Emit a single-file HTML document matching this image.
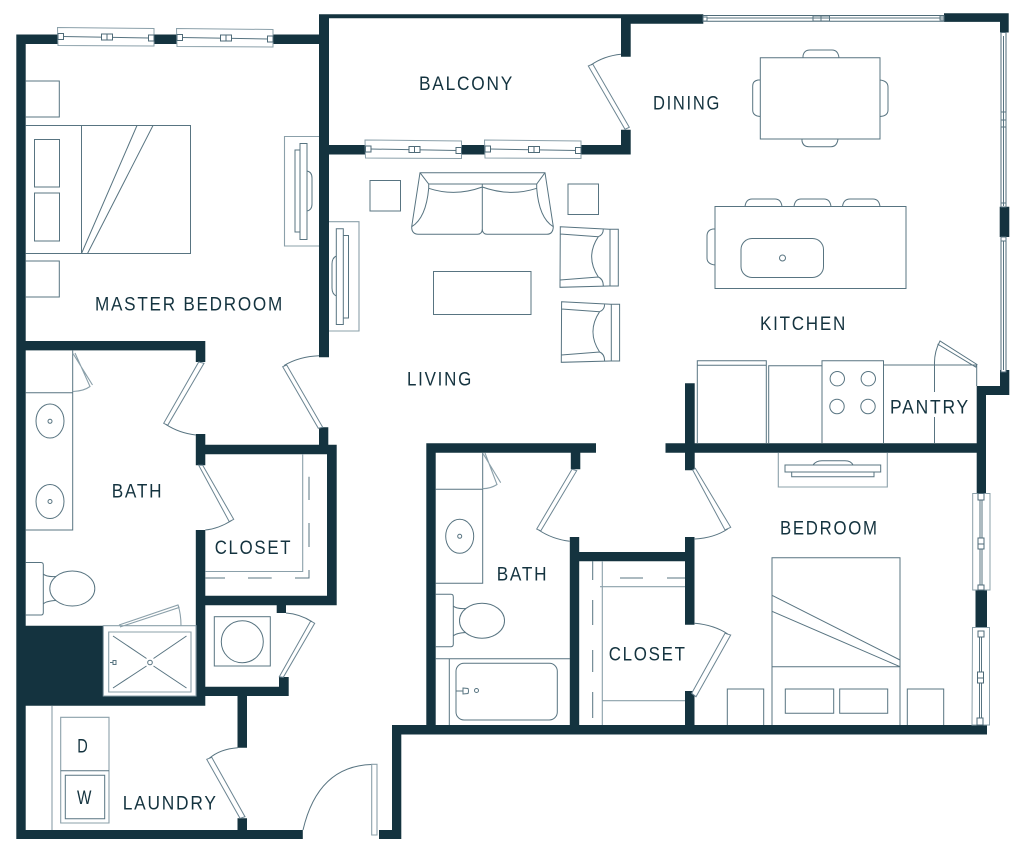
<!DOCTYPE html>
<html lang="en">
<head>
<meta charset="utf-8">
<title>Floor Plan</title>
<style>
html,body{margin:0;padding:0;background:#fff}
svg{display:block}
.w{fill:#14333f;stroke:none}
.t{fill:none;stroke:#587481;stroke-width:1}
.l{fill:none;stroke:#8ba0aa;stroke-width:1.1}
.p{fill:#fff;stroke:#6c8592;stroke-width:1}
.wi{fill:#fff;stroke:#8ba0aa;stroke-width:1}
.wl{fill:#fff;stroke:#4f6b78;stroke-width:1}
text{font-family:"Liberation Sans",sans-serif;font-size:19.5px;letter-spacing:2px;fill:#14333f}
</style>
</head>
<body>
<svg width="1024" height="852" viewBox="0 0 1024 852" xmlns="http://www.w3.org/2000/svg">
<defs>
<g id="slider">
<path class="wi" d="M57.5 27.5L154 28.5V46L58 45.5Z"/>
<path class="t" d="M63 36.5L149 38"/>
<path class="wl" d="M58 33.5H63.5V39.5H58ZM148.5 35H154V41H148.5ZM101.5 34H107V40H101.5ZM107 34H112.5V40H107Z"/>
</g>
<g id="chair">
<path class="t" d="M560.3 226.7L609.3 229.3H618.3V286H609L560 287.3ZM610 229.3V286M560.3 234L598.3 236.7Q603.3 235 603.3 229.3M598.3 236.7Q585 256.7 598.3 277M560 280L598.3 277Q603.3 279 603.3 286"/>
</g>
</defs>
<rect width="1024" height="852" fill="#fff"/>

<path class="w" d="M16.3 34.5H58.3V44H25.7V830H302.8V839H16.3ZM154 34.5H177V44H154ZM272 34.5H319V14.3H703.3V23.8H630.7V56.7H621V18.3H329V145H366V154.5H329V357.2H319V44H272ZM461 145H486V154.5H461ZM581 145H621V129.7H630.7V154.5H581ZM944 13.3H1008.7V32.5H1000V21.9H944ZM999.7 206.7H1009.3V237H999.7ZM1000 370H1009.3V395H986V493H976.7V386H1000ZM975.5 590H987V627H975.5ZM392 725H987V734.5H401.3V839H379V830H392ZM237.5 818.3H247V830.3H237.5ZM237.5 695H247V747.8H237.5ZM205.3 686.7H279V677H288.7V696H205.3ZM16.3 625.7H103.3V696H195.8V530H205.3V705.8H16.3ZM195.8 434H205.3V444.8H336.7V605.2H286V613H276.7V605.2H205.3V595.8H327V454.2H205.3V465.3H195.8ZM195.8 341H205.3V362H195.8V350.4H16.3V341ZM319 427.3H328.3V445.3H319ZM426.3 443.3H596V452.7H580.3V469.3H570.8V452.7H435.7V728.3H426.3ZM569.8 537H579.2V552H685V537H694.5V624.7H685V561.3H579.2V727H569.8ZM685 691H694.5V727H685ZM685 383.3H694.7V443.3H986V452.7H694.7V470.3H685V452.7H665.5V443.3H685Z"/>

<path class="wl" d="M703 15.5H944V21.3H703ZM1001 32.5H1006V207H1001ZM1001 237H1006V372H1001Z"/>
<path class="t" d="M707 18H944M703 17H707V21H703ZM813 16H821V21H813ZM821 16H829.5V21H821ZM940 16H944V20H940ZM1003.5 36V206M1003.5 241V370M1001 112H1006V120H1001ZM1001 120H1006V127H1001ZM1001 203H1006V207H1001ZM1001 237H1006V241H1001Z"/>

<use href="#slider"/>
<use href="#slider" x="119" y="1"/>
<use href="#slider" x="307.5" y="112.5"/>
<use href="#slider" x="427" y="112.5"/>

<path class="wi" d="M972.7 493.5H990V590H972.7ZM972.5 627.5H989.5V725H972Z"/>
<path class="t" d="M980 497V586M982 497V586M979.5 633V718M981.5 633V718"/>
<path class="wl" d="M978 493.5H984V500H978ZM978 585H984V590H978ZM978 538H984V544H978ZM978 544H984V549H978ZM978 631H984V637H978ZM977 718H983V725H977ZM977.5 672H983.5V678H977.5ZM977.5 678H983.5V683H977.5Z"/>

<!-- master bedroom -->
<path class="t" d="M25.7 81H59.3V117H25.7M25.7 261H59.3V297H25.7M25.7 125.5H190.5V253.5H25.7M81.5 125.5V253.5M137 125.5L81.5 253.5M153 125.5L87.5 253.5M34.5 139.5H59.5V187H34.5ZM34.5 193H59.5V241H34.5ZM300 143.5H307V239.5H300ZM295 150H300V232H295ZM307 171Q312 172 312 178V204Q312 210 307 211"/>
<path class="l" d="M319 136.5H284.5V246H319M329 221.7H359V331H329"/>

<!-- living -->
<path class="t" d="M336.3 228.7H343.3V324.5H336.3ZM343.3 235.5H348.5V318H343.3ZM336.3 256Q332 258 332 264V288Q332 294 336.3 296M370 180.5H400.5V211H370ZM568 184H598.5V214.5H568ZM433.5 271.5H531V314.5H433.5ZM420 172.7H545L553.3 226.7Q553 234.3 546.7 234.3H487Q482.3 234 482.3 229Q482.3 234 477.5 234.3H418.3Q411.5 234 411.7 226.7ZM420 172.7L428.7 184H536.7L545 172.7M482.3 184V229M428.7 184V188.3Q455 197 482.3 187Q510 197 536.7 188.3V184M428.7 188.3Q426 218 411.7 226.7M536.7 188.3Q539 218 553.3 226.7"/>
<use href="#chair"/>
<use href="#chair" x="1.3" y="75"/>

<!-- dining and kitchen -->
<path class="t" d="M760.3 57.7H880V139H760.3ZM803 57.7V56Q804 50 810 50H832Q838 50 839 57.7M802 139V141Q803 146.7 809 146.7H831Q837 146.7 838 139M760.3 80H758Q752.7 81 752.7 86V110Q752.7 116 760.3 116.5M880 80Q888 81 888 87V110Q888 116 880 116.5M715 206.5H906V288.5H715ZM745 206.5Q746 199 752 199H775Q781 199 782 206.5M794 206.5Q795 199 801 199H824Q830 199 831 206.5M842.5 206.5Q843.5 199 850 199H873Q879 199 880 206.5M715 229H713Q707 230 707 236V258Q707 264 715 265"/>
<rect class="t" x="741" y="238.5" width="82.5" height="39" rx="11"/>
<circle class="t" cx="782.5" cy="258" r="3"/>
<path class="t" d="M697.3 443V360.7H766.3V443M697.3 365.3H766.3M768.7 443V365.7H822M822 443V360.7H883.5V443M883.5 365H976.7V386M934.5 443V417M934.5 392V365Q934 352 940 341L977 364.5L975.7 367L937.5 344"/>
<circle class="t" cx="837.3" cy="378.7" r="7.2"/>
<circle class="t" cx="868.3" cy="378.7" r="7.2"/>
<circle class="t" cx="837" cy="406.5" r="7.2"/>
<circle class="t" cx="868" cy="406.5" r="7.2"/>

<!-- bedroom -->
<path class="l" d="M778.3 452.7V487H887.3V452.7"/>
<path class="t" d="M785 465H880.7V472H785ZM791.7 472H874V476.7H791.7ZM813 465Q816 460.7 822 460.7H845Q851 460.7 853 465M772 725V557.7H900V725M772 666.7H900M772 595.3L900 660M772 611.3L900 666.7M785.3 689H833.7V713.3H785.3ZM839.7 689H887.7V713.3H839.7ZM727.3 725V689H763.7V725M907.3 725V689H943.7V725"/>

<!-- master bath -->
<path class="t" d="M72.7 350V530H25.7M25.7 392.7H72.7M25.7 562.5H41Q43.3 562.5 43.3 565V612.5Q43.3 615 41 615H25.7M43.3 574Q46 577 56 576.5M43.3 604Q46 601 56 600.5"/>
<ellipse class="t" cx="50" cy="421" rx="14" ry="17"/>
<circle class="t" cx="50" cy="421.3" r="2"/>
<ellipse class="t" cx="50" cy="501.5" rx="14" ry="17"/>
<circle class="t" cx="50" cy="501.5" r="2"/>
<ellipse class="t" cx="72.3" cy="588.5" rx="22.5" ry="17.5"/>
<path class="l" d="M73 353.5L92.5 385M75 353L90 386.5Q84 391 73 391.5M103.3 625.7H196V696H103.3ZM108.7 632H191V692H108.7ZM119 625L178 605L179 607.5L120 627M178 605Q181 614 181 625.7"/>
<path class="t" d="M113 636L146.5 658.5M186.5 636L153.5 658.5M113 688L146.5 666M186.5 688L153.5 666M110 662.5H113M113 660.5H116V664.5H113Z"/>
<circle class="t" cx="150" cy="662.5" r="2.3"/>

<!-- utility closet and master closet -->
<rect class="t" x="214.3" y="616.7" width="56" height="49.3"/>
<circle class="t" cx="242.3" cy="641.7" r="21"/>
<path class="l" d="M302.7 454V571.5H205.3"/>
<path class="t" d="M309 476.7V500M309 523V547M309 570V578H295M271.7 578H248M225 578H205.3"/>

<!-- second bath -->
<path class="t" d="M482.7 452.7V583.3H435.7M435.7 489.3H482.7M435.7 594.3H451Q453.3 594.3 453.3 597V644Q453.3 646.7 451 646.7H435.7M453.3 606Q456 609 466 608.5M453.3 636Q456 633 466 632.5M435.7 658.7H570M449.3 658.7V725M456 691H463M463 688L468 688.5Q469 691 468 693.5L463 694Z"/>
<ellipse class="t" cx="459.7" cy="536.3" rx="14" ry="17"/>
<circle class="t" cx="459.7" cy="536.3" r="2"/>
<ellipse class="t" cx="482" cy="620.7" rx="22.5" ry="17.5"/>
<rect class="t" x="456" y="663.3" width="101.3" height="56.7" rx="8"/>
<circle class="t" cx="476.5" cy="690.5" r="2"/>
<path class="l" d="M483 453.5L500.7 482.7M485 453L497 484.5Q491 488.5 482.7 488.7M602.3 561V725M600 586.7H685M602 700.7H685"/>
<path class="t" d="M592.7 561V580M592.7 600V625M592.7 650V672M592.7 692V718M620 578H643M667 578H685"/>

<!-- laundry -->
<path class="l" d="M52 706V830M60.7 717.3H109V823H60.7Z"/>
<path class="t" d="M60.7 770.7H109M65.3 775.3H104.7V818.7H65.3Z"/>

<!-- doors -->
<path class="p" d="M198.7 362L204 363.3L167.7 425.3L163.7 423.3ZM198.7 465.3L202.7 465.3L233.7 519.3L229.3 521.7ZM282.7 366.7L286.7 365L322.7 427.3L318.3 428.3ZM279.3 676.7L283.3 677.3L314.7 623.3L310.7 621ZM206.7 759.3L211.7 757.3L245 816.7L240 818.3ZM588.3 66L592.7 64L629.3 127.3L625 129.3ZM572 469.3L576.7 470.7L540.7 531L536.7 529ZM692.7 470L695.3 468.3L730.7 527.3L725 530ZM691.7 693.3L696 696.7L730.7 635L725 633.3Z"/>
<path class="t" d="M165.7 424.3Q179 433 195.8 435M231.5 520.5Q218 529 205.3 530M284 365.5Q299 356.5 319 355.7M286 613Q300 614 312 621.7M209.3 758.3Q220 749 237.7 747.7M591 65Q604 56 621 54.3M538.7 530Q552 539 569.7 541.3M727.7 529Q714 538 694.7 539M727.7 634Q714 625 694.7 623.3M371.7 764.5Q318 766 303 830"/>
<path class="l" d="M371.7 764.3H377V835H371.7Z"/>

<!-- labels -->
<text x="95" y="310.7" textLength="189" lengthAdjust="spacingAndGlyphs">MASTER BEDROOM</text>
<text x="419" y="90" textLength="95" lengthAdjust="spacingAndGlyphs">BALCONY</text>
<text x="653" y="109.5" textLength="68" lengthAdjust="spacingAndGlyphs">DINING</text>
<text x="407" y="385.5" textLength="66" lengthAdjust="spacingAndGlyphs">LIVING</text>
<text x="760" y="330" textLength="87" lengthAdjust="spacingAndGlyphs">KITCHEN</text>
<text x="890" y="413.3" textLength="80" lengthAdjust="spacingAndGlyphs">PANTRY</text>
<text x="111.7" y="497.3" textLength="51.6" lengthAdjust="spacingAndGlyphs">BATH</text>
<text x="214.7" y="554" textLength="77.6" lengthAdjust="spacingAndGlyphs">CLOSET</text>
<text x="496.7" y="580.7" textLength="51.6" lengthAdjust="spacingAndGlyphs">BATH</text>
<text x="608.7" y="660.7" textLength="78" lengthAdjust="spacingAndGlyphs">CLOSET</text>
<text x="780" y="534.7" textLength="98.7" lengthAdjust="spacingAndGlyphs">BEDROOM</text>
<text x="122.7" y="809.3" textLength="95" lengthAdjust="spacingAndGlyphs">LAUNDRY</text>
<text x="77.3" y="752.7" textLength="12" lengthAdjust="spacingAndGlyphs">D</text>
<text x="77" y="804" textLength="16" lengthAdjust="spacingAndGlyphs">W</text>
</svg>
</body>
</html>
